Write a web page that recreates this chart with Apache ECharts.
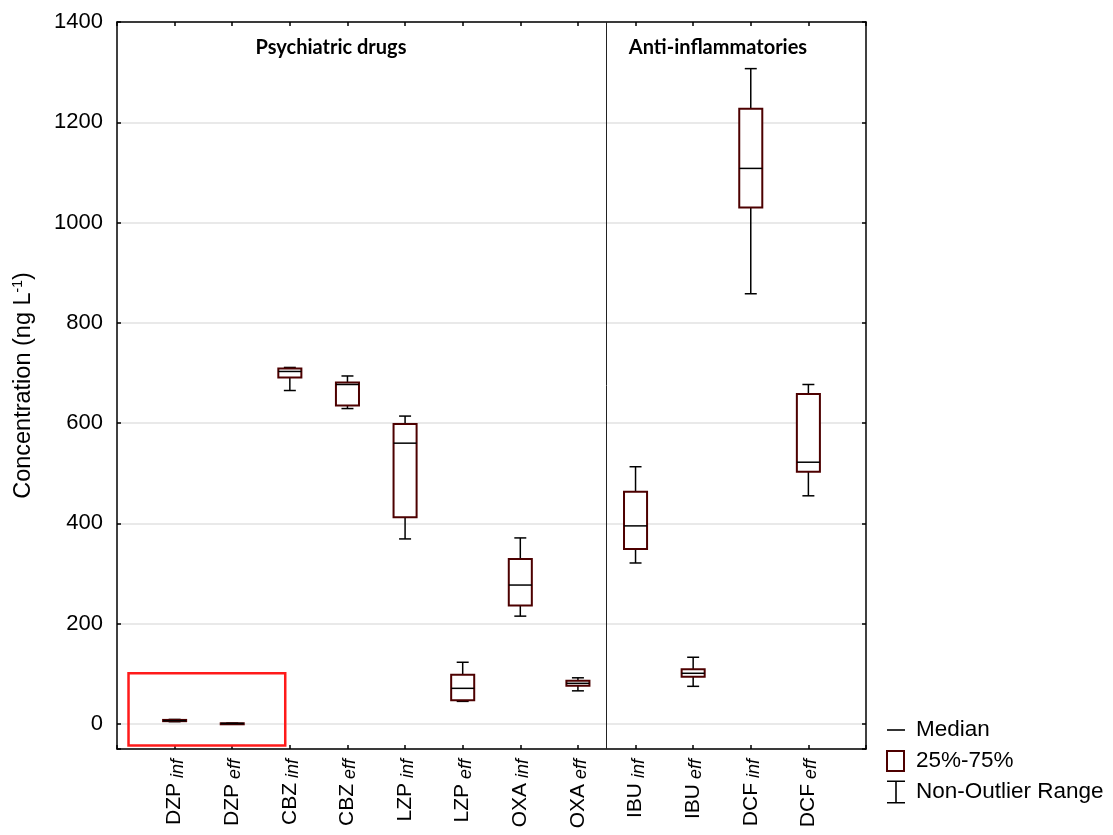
<!DOCTYPE html>
<html>
<head>
<meta charset="utf-8">
<title>Concentration box plot</title>
<script src="https://cdn.jsdelivr.net/npm/echarts@6/dist/echarts.min.js"></script>
<style>
  html, body { margin: 0; padding: 0; background: #fff; }
  #chart { width: 1113px; height: 835px; }
</style>
</head>
<body>
<div id="chart"></div>
<script>
// compounds (x positions 1..12), with sampling point as subscript
const compounds = ['DZP', 'DZP', 'CBZ', 'CBZ', 'LZP', 'LZP', 'OXA', 'OXA', 'IBU', 'IBU', 'DCF', 'DCF'];
const phases = ['inf', 'eff', 'inf', 'eff', 'inf', 'eff', 'inf', 'eff', 'inf', 'eff', 'inf', 'eff'];

// ng/L
const minVals    = [4.5, 0.3, 665, 629, 369, 45, 215, 66, 321, 75, 858, 455];
const q1Vals     = [5.5, 0.6, 691, 635, 412, 47, 236, 76, 349, 94, 1030, 503];
const medianVals = [6.5, 0.9, 703, 677, 560, 71, 277, 81, 395, 101, 1108, 522];
const q3Vals     = [8, 1.3, 709, 681, 598, 98, 329, 86, 463, 109, 1227, 658];
const maxVals    = [9, 1.6, 711, 694, 614, 123, 371, 92, 513, 133, 1307, 677];

const yTicks = [0, 200, 400, 600, 800, 1000, 1200, 1400];
const groupTitles = ['Psychiatric drugs', 'Anti-inflammatories'];
const groupSplit = 8.5;              // between OXAeff and IBUinf
const highlightX = [0.2, 2.92];      // red frame around the DZP boxes
const highlightY = [-43, 101];

const rows = compounds.map((c, i) => [i + 1, minVals[i], q1Vals[i], medianVals[i], q3Vals[i], maxVals[i]]);

const FONT = '"Liberation Sans", Arial, sans-serif';
const BOX_COLOR = '#4d0000';

const chart = echarts.init(document.getElementById('chart'));

const boxWidth = (api) => api.size([1, 0])[0] * 0.4;

const renderWhisker = (params, api) => {
  const x = api.value(0);
  const lo = api.coord([x, api.value(1)]);
  const hi = api.coord([x, api.value(5)]);
  const half = boxWidth(api) * 0.26;
  const style = { stroke: '#000', lineWidth: 1.5, fill: null };
  return {
    type: 'group',
    children: [
      { type: 'line', shape: { x1: lo[0], y1: lo[1], x2: hi[0], y2: hi[1] }, style },
      { type: 'line', shape: { x1: lo[0] - half, y1: lo[1], x2: lo[0] + half, y2: lo[1] }, style },
      { type: 'line', shape: { x1: hi[0] - half, y1: hi[1], x2: hi[0] + half, y2: hi[1] }, style }
    ]
  };
}

const renderBox = (params, api) => {
  const x = api.value(0);
  const bottom = api.coord([x, api.value(2)]);
  const top = api.coord([x, api.value(4)]);
  const w = boxWidth(api);
  return {
    type: 'rect',
    shape: { x: top[0] - w / 2, y: top[1], width: w, height: Math.max(bottom[1] - top[1], 1) },
    style: { fill: '#fff', stroke: BOX_COLOR, lineWidth: 2 }
  };
}

const renderMedian = (params, api) => {
  const x = api.value(0);
  const p = api.coord([x, api.value(3)]);
  const w = boxWidth(api);
  return {
    type: 'line',
    shape: { x1: p[0] - w / 2, y1: p[1], x2: p[0] + w / 2, y2: p[1] },
    style: { stroke: '#000', lineWidth: 1.5, fill: null }
  };
}

const frameAxisLine = { show: true, onZero: false, lineStyle: { color: '#000', width: 1.5 } };
const innerTick = { show: true, inside: true, length: 4, lineStyle: { color: '#000', width: 1.5 } };
const titleFont = 'bold 20px Lato, "Open Sans", sans-serif';

chart.setOption({
  animation: false,
  textStyle: { fontFamily: FONT, color: '#000' },
  grid: { left: 117, right: 247, top: 22, bottom: 86, outerBoundsMode: 'none' },
  graphic: [
    {
      type: 'text', x: 331, y: 48,
      style: { text: groupTitles[0], font: titleFont, fill: '#000', align: 'center', verticalAlign: 'middle' }
    },
    {
      type: 'text', x: 718, y: 48,
      style: { text: groupTitles[1], font: titleFont, fill: '#000', align: 'center', verticalAlign: 'middle' }
    }
  ],
  legend: {
    orient: 'vertical',
    left: 885,
    top: 718,
    padding: 0,
    itemWidth: 25,
    itemHeight: 24,
    itemGap: 6,
    selectedMode: false,
    textStyle: { fontSize: 22.5, color: '#000', fontFamily: FONT },
    data: [
      {
        name: 'Median',
        icon: 'path://M0,0M25,24M1,11.2h18v1.6h-18z',
        itemStyle: { color: '#000', borderWidth: 0 }
      },
      {
        name: '25%-75%',
        icon: 'path://M0,0M25,24M1,2h17v20h-17z',
        itemStyle: { color: '#fff', borderColor: BOX_COLOR, borderWidth: 2 }
      },
      {
        name: 'Non-Outlier Range',
        icon: 'path://M0,0M25,24M1,0.5h18v1.6h-18zM9.2,1h1.6v22h-1.6zM1,21.9h18v1.6h-18z',
        itemStyle: { color: '#000', borderWidth: 0 }
      }
    ]
  },
  xAxis: [
    {
      type: 'value',
      min: 0,
      max: 13,
      interval: 1,
      axisLine: frameAxisLine,
      axisTick: innerTick,
      splitLine: { show: false },
      axisLabel: {
        rotate: 90,
        margin: 10,
        color: '#000',
        formatter: (v) => {
          const i = Math.round(v) - 1;
          if (i < 0 || i >= compounds.length) return '';
          return '{m|' + compounds[i] + '}{s|' + phases[i] + '}';
        },
        rich: {
          m: { fontSize: 21, fontFamily: FONT, color: '#000', lineHeight: 24 },
          s: { fontSize: 18, fontFamily: FONT, fontStyle: 'italic', color: '#000', lineHeight: 18, verticalAlign: 'bottom', padding: [0, 0, 0, 5] }
        }
      }
    },
    {
      type: 'value',
      position: 'top',
      min: 0,
      max: 13,
      interval: 1,
      axisLine: frameAxisLine,
      axisTick: innerTick,
      axisLabel: { show: false },
      splitLine: { show: false }
    }
  ],
  yAxis: [
    {
      type: 'value',
      min: -50,
      max: 1400,
      splitNumber: 7,
      minInterval: 200,
      maxInterval: 200,
      name: '{a|Concentration (ng L}{sup|-1}{a|)}',
      nameLocation: 'middle',
      nameRotate: 90,
      nameGap: 80,
      nameTextStyle: {
        rich: {
          a: { fontSize: 23.5, fontFamily: FONT, color: '#000', lineHeight: 26 },
          sup: { fontSize: 14, fontFamily: FONT, color: '#000', lineHeight: 14, verticalAlign: 'top' }
        }
      },
      axisLine: frameAxisLine,
      axisTick: innerTick,
      axisLabel: {
        fontSize: 22,
        color: '#000',
        margin: 14,
        formatter: (v) => (yTicks.indexOf(v) >= 0 ? String(v) : '')
      },
      splitLine: { show: true, lineStyle: { color: '#e2e2e2', width: 1.5 } }
    },
    {
      type: 'value',
      position: 'right',
      min: -50,
      max: 1400,
      splitNumber: 7,
      minInterval: 200,
      maxInterval: 200,
      axisLine: frameAxisLine,
      axisTick: innerTick,
      axisLabel: { show: false },
      splitLine: { show: false }
    }
  ],
  series: [
    {
      name: 'Non-Outlier Range',
      type: 'custom',
      renderItem: renderWhisker,
      encode: { x: 0, y: [1, 2, 3, 4, 5] },
      itemStyle: { color: '#000' },
      data: rows,
      z: 2,
      markArea: {
        silent: true,
        itemStyle: { color: 'rgba(0,0,0,0)', borderColor: '#ff1a1a', borderWidth: 2.5 },
        data: [[
          { coord: [highlightX[0], highlightY[1]] },
          { coord: [highlightX[1], highlightY[0]] }
        ]]
      }
    },
    {
      name: '25%-75%',
      type: 'custom',
      renderItem: renderBox,
      encode: { x: 0, y: [1, 2, 3, 4, 5] },
      itemStyle: { color: BOX_COLOR },
      data: rows,
      z: 3
    },
    {
      name: 'Median',
      type: 'custom',
      renderItem: renderMedian,
      encode: { x: 0, y: [1, 2, 3, 4, 5] },
      itemStyle: { color: '#000' },
      data: rows,
      z: 4,
      markLine: {
        silent: true,
        symbol: 'none',
        label: { show: false },
        lineStyle: { color: '#222', width: 1, type: 'solid' },
        data: [{ xAxis: groupSplit }]
      }
    }
  ]
});
</script>
</body>
</html>
